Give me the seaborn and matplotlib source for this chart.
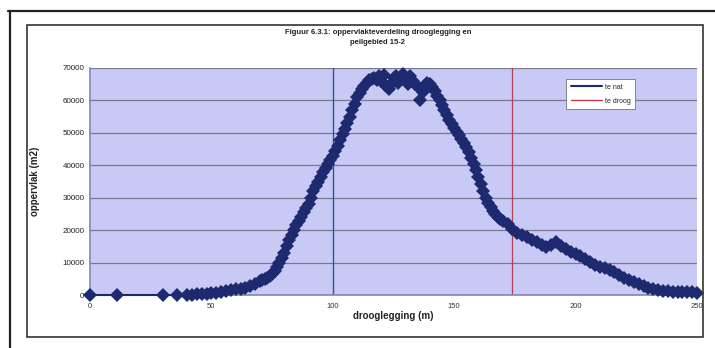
import matplotlib
matplotlib.use("Agg")
import matplotlib.pyplot as plt
import seaborn as sns
import pandas as pd
from matplotlib.lines import Line2D
from matplotlib.patches import Rectangle

sns.set_theme(style="white")
plt.rcParams['font.family'] = ['Liberation Sans', 'DejaVu Sans']

title = "Figuur 6.3.1: oppervlakteverdeling drooglegging en\npeilgebied 15-2"
x_label = "drooglegging (m)"
y_label = "oppervlak (m2)"
legend_labels = ["te nat", "te droog"]
x_ticks = [0, 50, 100, 150, 200, 250]
y_ticks = [0, 10000, 20000, 30000, 40000, 50000, 60000, 70000]
te_nat = 100
te_droog = 174

drooglegging = ([0, 11, 30, 36, 40, 42, 44, 46, 48, 50, 52, 54, 56, 58, 60, 62, 64, 66, 68]
                + list(range(70, 171))
                + list(range(172, 251, 2)))
oppervlak = ([0, 0, 0, 0, 0, 100, 200, 300, 400, 500, 700, 900, 1100, 1400, 1700, 2000, 2300, 2800, 3400,
              4200, 4500, 4900, 5300, 5800, 6600, 7500, 8600, 9800, 11300,
              13000, 15000, 17000, 18600, 20000, 21500, 22800, 24000, 25500, 26800,
              28000, 30000, 32000, 33500, 35000, 36500, 38000, 39300, 40500, 41700,
              43000, 44500, 46000, 47800, 49500, 51200, 53000, 55000, 57000, 59000,
              61000, 62300, 63500, 64600, 65500, 66200, 66600, 67000, 66400, 67400,
              66000, 67800, 64500, 63500, 65000, 66800, 67600, 65500, 66500, 68000,
              66800, 65200, 67500, 66000, 65000, 64000, 60000, 62500, 64800, 65500,
              65000, 64200, 63000, 61500, 60000, 58500, 57000, 55500, 54000, 52800,
              51500, 50300, 49200, 48000, 46800, 45500, 44000, 42200, 40500, 38500,
              36500, 34200, 32000, 30000, 28500, 27200, 26000, 25000, 24000, 23400,
              22800,
              21800, 20500, 19200, 18500, 18000, 17000, 16200, 15500, 14800, 15500,
              16300, 15000, 14200, 13300, 12500, 11900, 11000, 10200, 9400, 8700,
              8200, 7800, 7000, 6200, 5300, 4500, 3900, 3400, 2800, 2200,
              1800, 1500, 1300, 1100, 1000, 950, 900, 850, 800, 750])

df = pd.DataFrame({"x": drooglegging, "y": oppervlak})

W, H = 715, 348
fig = plt.figure(figsize=(W / 100, H / 100), dpi=100)
fig.patch.set_facecolor("white")

def fx(px):
    return px / W

def fy(py):
    return 1 - py / H

# frames
fig.add_artist(Line2D([fx(8), 1.0], [fy(11), fy(11)], color="#222222", lw=1.6))
fig.add_artist(Line2D([fx(10), fx(10)], [fy(11), 0.0], color="#222222", lw=1.6))
fig.add_artist(Rectangle((fx(27), fy(337)), fx(703) - fx(27), fy(25) - fy(337),
                         fill=False, edgecolor="#333333", lw=1.2))

ax = fig.add_axes([fx(90), fy(295), fx(697) - fx(90), fy(68) - fy(295)])
ax.set_facecolor("#c9c9f6")

ax.set_xlim(0, 250)
ax.set_ylim(0, 70000)
ax.set_xticks(x_ticks)
ax.set_yticks(y_ticks)
ax.set_xticklabels([str(t) for t in x_ticks], fontsize=5.5, color="#333333")
ax.set_yticklabels([str(t) for t in y_ticks], fontsize=5.8, color="#222222")
ax.tick_params(axis="x", length=0, pad=6)
ax.tick_params(axis="y", length=0, pad=4)
ax.yaxis.grid(True, color="#7a7890", lw=0.9)
ax.xaxis.grid(False)
ax.set_axisbelow(True)
for s in ["top", "right"]:
    ax.spines[s].set_visible(False)
ax.spines["left"].set_color("#8888bb")
ax.spines["bottom"].set_color("#8888bb")

ax.axvline(te_nat, color="#34509a", lw=1.0, zorder=1.5)
ax.axvline(te_droog, color="#b04050", lw=0.9, zorder=1.5)

sns.lineplot(data=df, x="x", y="y", ax=ax, color="#1d2a70", lw=1.5,
             marker="D", markersize=7.5, markeredgewidth=0, estimator=None,
             sort=False, clip_on=False, zorder=3)

ax.set_xlabel(x_label, fontsize=7, fontweight="bold", color="#222222")
ax.set_ylabel(y_label, fontsize=7, fontweight="bold", color="#222222")
ax.yaxis.set_label_coords((40 - 90) / (697 - 90), 0.5)
ax.xaxis.set_label_coords(0.5, -(316 - 295) / (295 - 68))
ax.xaxis.label.set_va("center")

fig.text(fx(378), fy(38), title, ha="center", va="center", fontsize=5.5,
         fontweight="bold", color="#222222", linespacing=1.6)

handles = [Line2D([0], [0], color="#1d2a70", lw=1.5),
           Line2D([0], [0], color="#c03a5a", lw=1.0)]
leg = ax.legend(handles, legend_labels, loc="upper left",
                bbox_to_anchor=((563 - 90) / (697 - 90), 1 - (76 - 68) / (295 - 68)),
                fontsize=5, frameon=True, fancybox=False, framealpha=1,
                edgecolor="#777777", handlelength=4.5, borderpad=0.6,
                labelspacing=1.0, handletextpad=0.4)
leg.get_frame().set_linewidth(0.6)

fig.savefig("out.png", dpi=100)
